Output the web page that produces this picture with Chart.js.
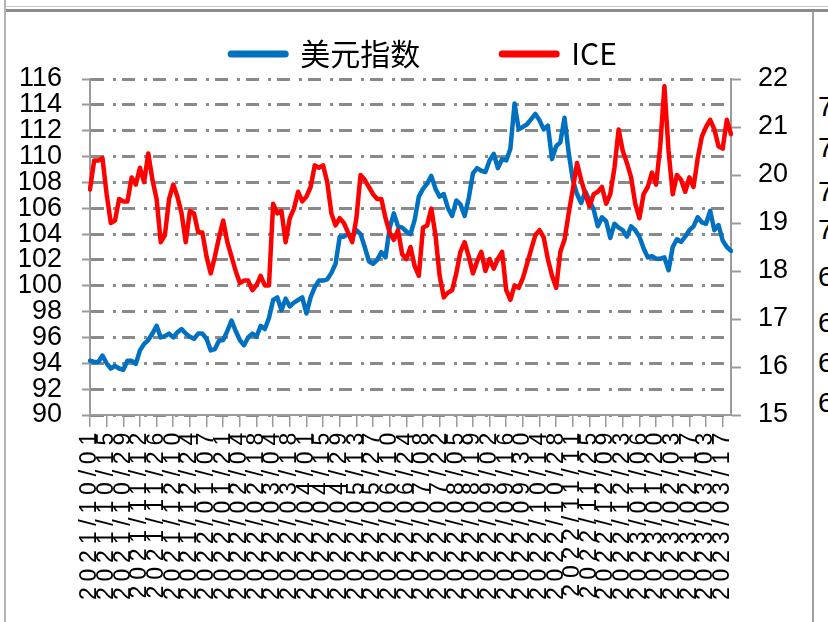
<!DOCTYPE html>
<html lang="zh-CN">
<head>
<meta charset="utf-8">
<title>美元指数与ICE</title>
<script src="https://cdn.jsdelivr.net/npm/chart.js@4.4.0/dist/chart.umd.min.js"></script>
<style>
  html, body { margin: 0; padding: 0; background: #fff; overflow: hidden; }
  #wrap { position: relative; width: 828px; height: 622px; overflow: hidden; }
  #chart { position: absolute; left: 0; top: 0; }
  .rule { position: absolute; }
  .cut { position: absolute; left: 818px; font: 28px 'Liberation Sans', sans-serif; line-height: 1; color: #000; }
</style>
</head>
<body>
<div id="wrap">
  <div class="rule" style="left:5px;top:6px;width:823px;height:1px;background:#c8c8c8"></div>
  <div class="rule" style="left:5px;top:9px;width:823px;height:3px;background:#8c8c8c"></div>
  <div class="rule" style="left:4px;top:0;width:2px;height:622px;background:#b4b4b4"></div>
  <div class="rule" style="left:812px;top:12px;width:2px;height:610px;background:#a0a0a0"></div>
  <span class="cut" style="top:93px">7</span>
  <span class="cut" style="top:134px">7</span>
  <span class="cut" style="top:178px">7</span>
  <span class="cut" style="top:216px">7</span>
  <span class="cut" style="top:263px">6</span>
  <span class="cut" style="top:309px">6</span>
  <span class="cut" style="top:349px">6</span>
  <span class="cut" style="top:389px">6</span>
  <canvas id="chart" width="828" height="622"></canvas>
</div>
<script>
// biweekly tick labels shown under the x axis
const tickLabels = [
  "2021/10/01", "2021/10/15", "2021/10/29", "2021/11/12", "2021/11/26", "2021/12/10", "2021/12/24",
  "2022/01/07", "2022/01/21", "2022/02/04", "2022/02/18", "2022/03/04", "2022/03/18", "2022/04/01",
  "2022/04/15", "2022/04/29", "2022/05/13", "2022/05/27", "2022/06/10", "2022/06/24", "2022/07/08",
  "2022/07/22", "2022/08/05", "2022/08/19", "2022/09/02", "2022/09/16", "2022/09/30", "2022/10/14",
  "2022/10/28", "2022/11/11", "2022/11/25", "2022/12/09", "2022/12/23", "2023/01/06", "2023/01/20",
  "2023/02/03", "2023/02/17", "2023/03/03", "2023/03/17"
];

// 美元指数 (left axis), two readings a week (Fri, Tue)
const dxy = [
  94.2, 94.1, 94.1, 94.6, 94.0, 93.6, 93.8, 93.6, 93.5, 94.2,
  94.2, 93.95, 95.0, 95.5, 95.8, 96.3, 96.9, 96.0, 96.1, 96.3,
  96.0, 96.4, 96.65, 96.3, 96.05, 95.9, 96.3, 96.3, 95.9, 95.0,
  95.1, 95.75, 95.8, 96.5, 97.3, 96.5, 95.8, 95.4, 96.0, 96.3,
  96.05, 96.9, 96.65, 97.5, 98.9, 99.1, 98.1, 99.0, 98.4, 98.7,
  98.9, 99.1, 97.85, 99.1, 99.9, 100.4, 100.4, 100.5, 101.0, 101.7,
  103.8, 103.8, 104.0, 103.8, 104.3, 104.0, 103.0, 101.9, 101.7, 102.0,
  102.6, 102.2, 104.5, 105.6, 104.6, 104.5, 104.2, 104.0, 105.1, 106.9,
  107.5, 107.9, 108.5, 107.5, 106.9, 107.1, 106.0, 105.4, 106.6, 106.3,
  105.4, 106.8, 108.7, 109.1, 108.9, 108.8, 109.7, 110.2, 109.1, 109.8,
  109.7, 110.6, 114.1, 112.1, 112.3, 112.5, 112.9, 113.3, 112.8, 112.1,
  112.4, 109.8, 110.8, 111.1, 113.0, 110.3, 108.2, 107.1, 106.4, 107.3,
  106.6, 105.9, 104.6, 105.3, 105.0, 103.7, 104.8, 104.5, 104.3, 103.8,
  104.6, 104.3, 103.8, 102.9, 102.2, 102.3, 102.1, 102.1, 102.2, 101.2,
  103.0, 103.6, 103.4, 103.8, 104.3, 104.6, 105.3, 104.9, 104.8, 105.8,
  104.3, 104.7, 103.5, 103.0, 102.7
];

// ICE (right axis)
const ice = [
  19.7, 20.3, 20.3, 20.35, 19.6, 19.0, 19.05, 19.5, 19.45, 19.45,
  19.95, 19.8, 20.15, 19.85, 20.45, 19.9, 19.5, 18.6, 18.75, 19.5,
  19.8, 19.55, 19.2, 18.6, 19.25, 19.2, 18.8, 18.8, 18.3, 17.95,
  18.3, 18.7, 19.05, 18.6, 18.3, 18.0, 17.75, 17.8, 17.8, 17.6,
  17.7, 17.9, 17.7, 17.7, 19.4, 19.2, 19.25, 18.6, 19.1, 19.3,
  19.65, 19.45, 19.55, 19.75, 20.2, 20.15, 20.2, 19.85, 19.2, 18.95,
  19.1, 19.0, 18.8, 18.6, 19.1, 20.0, 19.9, 19.75, 19.6, 19.5,
  19.5, 19.1, 18.8, 18.65, 18.85, 18.35, 18.25, 18.5, 18.1, 17.9,
  18.9, 18.95, 19.3, 18.75, 17.9, 17.45, 17.55, 17.6, 17.95, 18.4,
  18.6, 18.3, 17.95, 18.2, 18.4, 18.0, 18.25, 18.05, 18.25, 18.4,
  17.6, 17.4, 17.7, 17.65, 17.85, 18.15, 18.45, 18.75, 18.85, 18.7,
  18.25, 17.9, 17.65, 18.4, 18.65, 19.2, 19.7, 20.25, 19.9, 19.6,
  19.35, 19.6, 19.65, 19.75, 19.4, 19.6, 20.15, 20.95, 20.5, 20.25,
  19.95, 19.4, 19.1, 19.6, 19.75, 20.05, 19.8, 20.6, 21.85, 20.5,
  19.6, 20.0, 19.9, 19.65, 19.95, 19.75, 20.35, 20.8, 21.0, 21.15,
  20.95, 20.6, 20.55, 21.15, 20.85
];

// category dates: each Friday plus the Tuesday after it
const dates = [];
const startDay = Date.UTC(2021, 9, 1);
function fmtDate(t) {
  const d = new Date(t);
  return d.getUTCFullYear() + "/" + String(d.getUTCMonth() + 1).padStart(2, "0") + "/" + String(d.getUTCDate()).padStart(2, "0");
}
for (let i = 0; i < dxy.length; i++) {
  const days = Math.floor(i / 2) * 7 + (i % 2) * 4;
  dates.push(fmtDate(startDay + days * 86400000));
}

const AXIS = "#9a9a9a";
const GRID = "#8a8a8a";
const BLUE = "#0070c0";
const RED = "#ff0000";
const NUM_FONT = "'Liberation Sans', sans-serif";

// x labels are drawn with extra letter spacing, like the original export
const spacedXLabels = {
  id: "spacedXLabels",
  beforeDraw(chart) {
    const sc = chart.scales.x;
    if (!sc || sc.__spaced) return;
    const orig = sc.drawLabels;
    sc.drawLabels = function (area) {
      const ctx = this.ctx;
      ctx.save();
      ctx.letterSpacing = "5.8px";
      orig.call(this, area);
      ctx.restore();
    };
    sc.__spaced = true;
  }
};

new Chart(document.getElementById("chart"), {
  type: "line",
  data: {
    labels: dates,
    datasets: [
      {
        label: "美元指数",
        data: dxy,
        yAxisID: "y",
        borderColor: BLUE,
        backgroundColor: BLUE,
        borderWidth: 4.5,
        borderJoinStyle: "round",
        borderCapStyle: "round",
        pointRadius: 0,
        tension: 0,
        order: 1
      },
      {
        label: "ICE",
        data: ice,
        yAxisID: "y2",
        borderColor: RED,
        backgroundColor: RED,
        borderWidth: 4.5,
        borderJoinStyle: "round",
        borderCapStyle: "round",
        pointRadius: 0,
        tension: 0,
        order: 0
      }
    ]
  },
  options: {
    responsive: false,
    animation: false,
    devicePixelRatio: 1,
    layout: { padding: { top: -43, left: 20, right: 0, bottom: 0 } },
    plugins: {
      tooltip: { enabled: false },
      legend: {
        position: "top",
        labels: {
          usePointStyle: true,
          pointStyle: "line",
          pointStyleWidth: 54,
          padding: 82,
          color: "#000",
          font: { family: "'Noto Sans CJK SC', sans-serif", size: 30 },
          sort: (a, b) => a.datasetIndex - b.datasetIndex,
          generateLabels: chart =>
            Chart.defaults.plugins.legend.labels.generateLabels(chart).map(l => ({ ...l, lineWidth: 7, lineCap: "round" }))
        }
      }
    },
    scales: {
      x: {
        type: "category",
        offset: false,
        grid: { display: true, drawOnChartArea: false, tickLength: 12, color: AXIS, lineWidth: 1.5 },
        border: { display: true, color: AXIS, width: 2 },
        ticks: {
          autoSkip: false,
          minRotation: 90,
          maxRotation: 90,
          padding: 0,
          color: "#000",
          font: { family: NUM_FONT, size: 23 }
        },
        afterBuildTicks: axis => {
          axis.ticks = axis.ticks.filter(t => tickLabels.includes(dates[t.value]));
        },
        afterFit: axis => { axis.height = 207; }
      },
      y: {
        position: "left",
        min: 90,
        max: 116,
        ticks: { stepSize: 2, autoSkip: false, padding: 20, color: "#000", font: { family: NUM_FONT, size: 27 } },
        grid: { color: GRID, lineWidth: 3, tickLength: 8, tickWidth: 2, tickColor: AXIS },
        border: { display: true, color: AXIS, width: 2, dash: [13, 9, 3, 6] },
        afterFit: axis => { axis.width = 70; }
      },
      y2: {
        position: "right",
        min: 15,
        max: 22,
        ticks: { stepSize: 1, autoSkip: false, padding: 17, color: "#000", font: { family: NUM_FONT, size: 27 } },
        grid: { drawOnChartArea: false, tickLength: 10, tickWidth: 2, tickColor: AXIS, color: AXIS },
        border: { display: true, color: AXIS, width: 2 },
        afterFit: axis => { axis.width = 97; }
      }
    }
  },
  plugins: [spacedXLabels]
});
</script>
</body>
</html>
